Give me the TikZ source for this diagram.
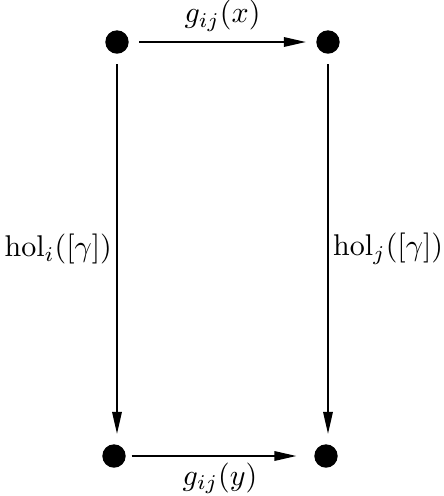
\documentclass[tikz,border=0pt]{standalone}
\usepackage{tikz}
\usetikzlibrary{arrows.meta,positioning}
\tikzstyle{dot}=[fill=black,circle,minimum size=7.8pt,inner sep=0pt,outer sep=3.5pt]

\begin{document}
\begin{tikzpicture}[x=0.3333pt,y=-0.3333pt,
every edge/.style = {draw, -{Triangle[length=7.3pt,width=3.2pt]}, line width=0.45pt}]
\useasboundingbox (0,0) rectangle (444,496);
\node [dot] (tl) at (117,42) {};
\node [dot] (tr) at (328,42) {};
\node [dot] (bl) at (114,456) {};
\node [dot] (br) at (326,456) {};
\path (tl) edge node[above] {$g_{ij}(x)$} (tr)
      (bl) edge[shorten <=-1.5pt,shorten >=2.5pt] node[below,inner sep=2pt] {$g_{ij}(y)$} (br)
      (tl) edge node[left,inner sep=1.5pt] {$\mathrm{hol}_i([\gamma])$} (tl |- bl.north)
      (tr) edge node[right,inner sep=1.5pt] {$\mathrm{hol}_j([\gamma])$} (tr |- br.north);
\end{tikzpicture}
\end{document}
